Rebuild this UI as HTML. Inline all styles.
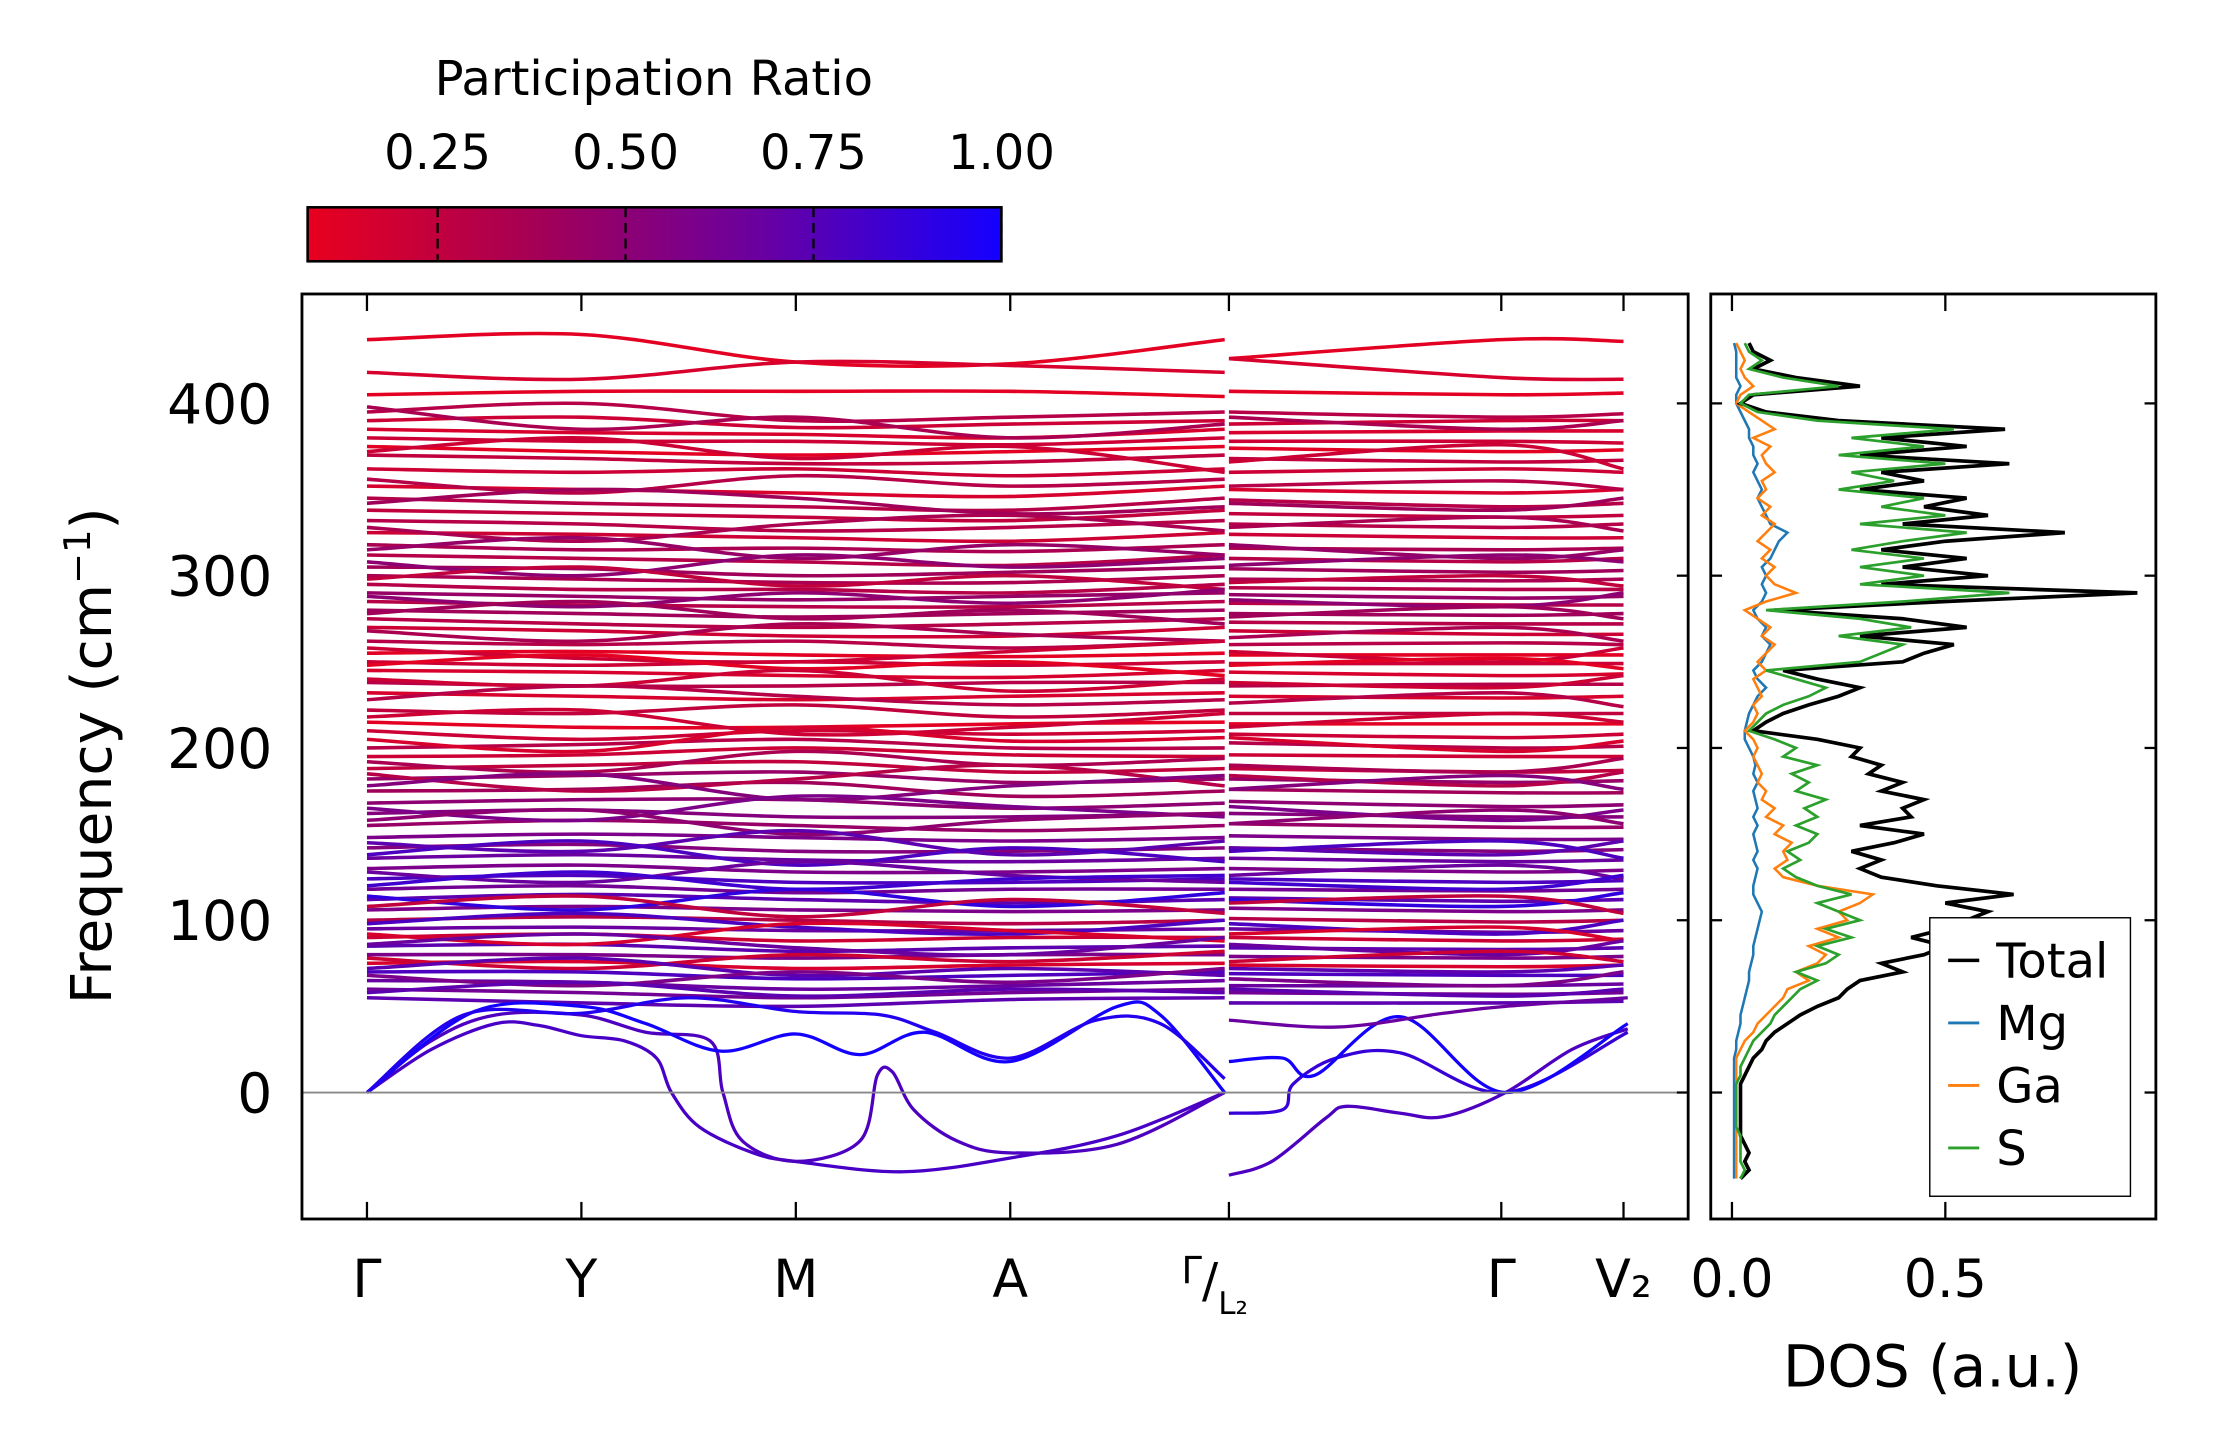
<!DOCTYPE html>
<html><head><meta charset="utf-8"><style>
html,body{margin:0;padding:0;background:#fff}
svg{display:block}
text{font-family:"DejaVu Sans","Liberation Sans",sans-serif;fill:#000}
</style></head><body>
<svg id="fig" width="2222" height="1455" viewBox="-0.7 1.1 1572.5 1024" preserveAspectRatio="none" xmlns="http://www.w3.org/2000/svg">
<defs>
<linearGradient id="cbg" x1="0" x2="1" y1="0" y2="0">
<stop offset="0" stop-color="#e8001e"/><stop offset="0.35" stop-color="#a0005a"/><stop offset="0.65" stop-color="#6a00a0"/><stop offset="1" stop-color="#1400ff"/>
</linearGradient>
<clipPath id="mainclip"><rect x="213" y="208" width="981" height="651"/></clipPath>
<clipPath id="dosclip"><rect x="1210" y="208" width="315" height="651"/></clipPath>
</defs>
<g>
<text x="462" y="68" font-size="34" text-anchor="middle">Participation Ratio</text>
<rect x="217" y="147" width="491" height="38" fill="url(#cbg)" stroke="#000" stroke-width="1.8"/>
<g id="cbticks"></g>
</g>
<g id="main">
<g id="bands" clip-path="url(#mainclip)"></g>
<line x1="213" y1="770" x2="1194" y2="770" stroke="#888" stroke-width="1.3"/>
<rect x="213" y="208" width="981" height="651" fill="none" stroke="#000" stroke-width="2"/>
<g id="mainaxes"></g>
<text transform="translate(78,533) rotate(-90)" font-size="40" text-anchor="middle">Frequency (cm<tspan dy="-15" font-size="26">−1</tspan><tspan dy="15">)</tspan></text>
</g>
<g id="dos">
<g id="doslines" clip-path="url(#dosclip)"></g>
<rect x="1210" y="208" width="315" height="651" fill="none" stroke="#000" stroke-width="2"/>
<g id="dosaxes"></g>
<text x="1367" y="977" font-size="41" text-anchor="middle">DOS (a.u.)</text>
<g>
<rect x="1365" y="647" width="142" height="196" fill="#fff" stroke="#000" stroke-width="1"/>
<line x1="1378" y1="677" x2="1400" y2="677" stroke="#000" stroke-width="2.5"/><text x="1412" y="689" font-size="34">Total</text>
<line x1="1378" y1="721" x2="1400" y2="721" stroke="#1f77b4" stroke-width="2"/><text x="1412" y="733" font-size="34">Mg</text>
<line x1="1378" y1="765" x2="1400" y2="765" stroke="#ff7f0e" stroke-width="2"/><text x="1412" y="777" font-size="34">Ga</text>
<line x1="1378" y1="809" x2="1400" y2="809" stroke="#2ca02c" stroke-width="2"/><text x="1412" y="821" font-size="34">S</text>
</g>
</g>
</svg>
<script>
// ---- data ----
const kLabels = ["Γ","Y","M","A","Γ/L2","Γ","V2"];
const kPos = [0,1,2,3,4,5.29,5.86];
const yTicks = [0,100,200,300,400];
const cbTicks = [0.25,0.5,0.75,1.0];
const dosTicks = [0.0,0.5];
// optical bands: [Γ, Y, M, A, Γ | L2, Γ, V2]
const bandVals = [
[437,440,424,423,437,426,437,436],[418,414,424,422,418,426,415,414],[405,407,407,407,404,407,405,406],
[395,400,390,392,395,395,392,394],[390,392,386,388,390,388,390,390],[385,383,382,380,385,383,384,384],
[380,378,378,376,380,378,378,377],[375,372,370,372,375,374,372,373],[370,368,365,366,370,368,366,367],
[362,360,362,358,362,360,362,360],[352,350,348,346,352,350,348,350],[345,342,340,338,345,344,340,342],
[338,336,334,332,338,336,334,335],[332,330,326,328,332,330,328,330],[325,324,322,320,325,324,322,322],
[318,315,316,314,318,316,315,316],[312,310,308,306,312,310,308,310],[305,304,300,302,305,304,302,303],
[300,298,296,296,300,298,297,298],[295,292,292,290,295,293,292,292],[290,288,286,288,290,289,287,288],
[285,283,282,282,285,284,283,283],[280,278,276,278,280,278,277,278],[275,272,270,272,275,273,272,272],
[270,268,265,265,270,268,266,266],[262,260,262,258,262,260,261,260],[255,256,254,253,255,254,254,254],
[250,248,250,248,250,249,249,249],[245,244,242,241,245,244,242,243],[238,236,236,238,238,236,237,237],
[232,230,228,230,232,230,229,230],[222,220,225,218,222,220,220,220],[215,212,212,214,215,214,214,214],
[210,205,210,208,210,208,206,208],[200,202,205,200,200,203,200,201],[195,196,200,196,195,196,195,195],
[188,190,192,186,188,188,186,187],[182,184,186,180,182,182,180,181],[175,176,180,172,175,176,174,174],
[168,170,170,165,168,169,166,167],[162,164,160,160,162,162,160,160],[155,158,155,152,155,156,154,154],
[148,150,148,146,148,149,147,147],[142,144,140,140,142,142,140,141],[136,138,135,134,136,136,134,135],
[130,132,128,128,130,130,128,129],[124,126,122,122,124,124,122,123],[118,120,116,118,118,118,117,118],
[112,115,112,110,112,113,111,112],[106,108,106,105,106,107,105,106],[100,102,100,98,100,101,99,100],
[95,96,94,94,95,95,93,94],[90,92,88,90,90,90,88,89],[85,86,82,84,85,84,83,84],
[80,80,78,80,80,79,78,79],[75,76,72,74,75,74,73,74],[70,70,66,68,70,69,68,68],
[65,64,60,62,65,62,62,63],[60,58,55,58,60,58,57,58],[55,52,50,54,55,52,52,53],
[398,385,392,380,388,392,385,390],[372,380,368,375,360,366,376,362],[356,348,358,352,356,352,355,350],
[342,350,345,336,340,342,338,345],[328,320,330,335,326,328,334,326],[315,322,310,318,312,318,310,315],
[308,300,312,305,310,306,312,308],[298,305,294,300,292,296,300,294],[288,282,290,284,292,286,282,290],
[278,285,275,280,272,276,282,275],[268,262,272,266,262,264,270,262],[258,252,250,256,262,256,250,258],
[248,254,246,250,242,248,252,246],[240,236,245,233,240,238,235,242],[228,236,230,225,228,226,232,224],
[218,222,208,212,220,212,220,215],[205,198,212,204,206,206,198,204],[192,186,198,190,194,190,186,194],
[185,175,182,190,178,184,178,186],[178,185,170,178,184,176,184,176],[165,158,172,166,160,166,158,164],
[158,164,150,158,162,156,164,156],[145,140,152,138,146,142,138,146],[138,146,132,142,134,140,146,136],
[128,122,134,126,122,126,132,124],[120,128,118,124,126,122,118,126],[114,106,118,108,116,112,108,116],
[108,114,102,112,104,110,114,104],[98,104,96,92,100,98,92,100],[92,86,98,94,88,92,96,88],
[86,92,84,80,90,86,80,88],[78,72,80,76,82,76,82,76],[72,78,68,72,68,72,70,74],
[68,62,70,64,72,66,62,70],[58,64,56,60,58,60,56,60]
];
const bandPR = [0.1,0.15,0.1,0.3,0.2,0.15,0.2,0.1,0.25,0.2,0.15,0.3,0.25,0.3,0.2,0.35,0.3,0.4,0.35,0.3,0.45,0.3,0.4,0.3,0.2,0.3,0.1,0.2,0.15,0.3,0.15,0.25,0.1,0.2,0.3,0.2,0.25,0.45,0.4,0.5,0.55,0.45,0.6,0.55,0.7,0.6,0.8,0.65,0.75,0.6,0.3,0.7,0.2,0.75,0.6,0.15,0.8,0.7,0.65,0.75,
0.35,0.2,0.3,0.4,0.35,0.45,0.5,0.25,0.5,0.4,0.35,0.2,0.1,0.2,0.3,0.2,0.15,0.35,0.3,0.55,0.6,0.5,0.75,0.8,0.7,0.85,0.9,0.25,0.8,0.15,0.7,0.2,0.75,0.6,0.75];
// acoustic / soft bands: [k, freq] points
const lowBands = [
[[0,0],[0.3,25],[0.6,40],[0.8,39],[1,33],[1.2,30],[1.35,20],[1.42,0],[1.55,-20],[1.8,-35],[2,-40],[2.5,-46],[3,-38],[3.5,-25],[4,0]],
[[0,0],[0.3,30],[0.6,45],[1,45],[1.3,35],[1.6,30],[1.66,0],[1.75,-28],[2,-40],[2.3,-28],[2.38,10],[2.45,12],[2.55,-10],[2.75,-28],[3,-35],[3.5,-30],[4,0]],
[[0,0],[0.5,47],[1,50],[1.3,40],[1.65,24],[2,34],[2.3,22],[2.6,35],[3,18],[3.5,50],[3.7,45],[4,0]],
[[0,0],[0.45,45],[1,46],[1.5,55],[2,47],[2.4,45],[2.65,35],[3,20],[3.4,42],[3.7,40],[4,8]],
[[4,-48],[4.2,-40],[4.45,-15],[4.55,-8],[4.8,-12],[5.0,-14],[5.29,0],[5.6,25],[5.86,37]],
[[4,-12],[4.25,-10],[4.3,5],[4.5,20],[4.8,23],[5.29,0],[5.86,35]],
[[4,18],[4.25,20],[4.4,10],[4.8,44],[5.29,0],[5.86,40]],
[[4,42],[4.5,38],[5.0,46],[5.29,50],[5.86,55]]
];
const lowPR = [0.82,0.8,1.0,0.95,0.8,0.88,1.0,0.7];
// DOS (step 5 cm-1 starting at -50)
const dosStart = -50, dosStep = 5;
const dosTotal = [0.02,0.04,0.03,0.04,0.03,0.02,0.02,0.02,0.02,0.02,0.02,0.02,0.03,0.04,0.05,0.07,0.08,0.1,0.13,0.16,0.2,0.25,0.27,0.3,0.4,0.35,0.45,0.5,0.42,0.5,0.55,0.6,0.5,0.66,0.48,0.35,0.3,0.35,0.28,0.38,0.45,0.3,0.42,0.4,0.45,0.35,0.4,0.32,0.35,0.28,0.3,0.2,0.05,0.08,0.12,0.18,0.25,0.3,0.2,0.12,0.4,0.45,0.52,0.3,0.55,0.4,0.1,0.5,0.95,0.35,0.6,0.4,0.55,0.35,0.5,0.78,0.4,0.6,0.45,0.55,0.3,0.45,0.35,0.65,0.3,0.55,0.35,0.64,0.25,0.08,0.02,0.05,0.3,0.15,0.05,0.09,0.05,0.04];
const dosS = [0.02,0.03,0.02,0.02,0.02,0.02,0.01,0.01,0.01,0.01,0.01,0.01,0.02,0.02,0.03,0.04,0.05,0.07,0.09,0.1,0.12,0.14,0.16,0.2,0.15,0.22,0.25,0.2,0.28,0.22,0.3,0.25,0.2,0.28,0.2,0.15,0.12,0.16,0.13,0.18,0.2,0.15,0.2,0.17,0.22,0.15,0.18,0.14,0.2,0.12,0.15,0.1,0.04,0.06,0.08,0.12,0.18,0.22,0.15,0.08,0.3,0.35,0.4,0.25,0.42,0.3,0.08,0.4,0.65,0.3,0.45,0.3,0.45,0.28,0.4,0.55,0.3,0.5,0.35,0.45,0.25,0.38,0.28,0.5,0.25,0.45,0.28,0.52,0.2,0.06,0.02,0.04,0.25,0.12,0.04,0.07,0.04,0.03];
const dosGa = [0.01,0.01,0.01,0.01,0.01,0.01,0.01,0.01,0.01,0.01,0.01,0.01,0.01,0.01,0.01,0.02,0.03,0.05,0.06,0.08,0.1,0.12,0.13,0.18,0.15,0.2,0.22,0.18,0.25,0.2,0.27,0.25,0.3,0.33,0.2,0.12,0.1,0.13,0.12,0.14,0.1,0.12,0.08,0.1,0.07,0.08,0.06,0.07,0.06,0.05,0.06,0.05,0.03,0.05,0.06,0.05,0.07,0.06,0.05,0.08,0.06,0.08,0.1,0.07,0.09,0.06,0.03,0.08,0.15,0.1,0.08,0.1,0.07,0.09,0.06,0.08,0.1,0.07,0.09,0.06,0.08,0.07,0.1,0.08,0.07,0.09,0.05,0.1,0.07,0.04,0.01,0.02,0.05,0.03,0.02,0.03,0.02,0.01];
const dosMg = [0.005,0.005,0.005,0.005,0.005,0.005,0.005,0.005,0.005,0.005,0.005,0.005,0.005,0.005,0.005,0.01,0.01,0.015,0.02,0.02,0.025,0.03,0.035,0.04,0.04,0.045,0.05,0.05,0.055,0.06,0.065,0.07,0.06,0.05,0.05,0.055,0.06,0.05,0.06,0.055,0.05,0.06,0.05,0.06,0.055,0.05,0.06,0.05,0.055,0.05,0.04,0.03,0.03,0.035,0.04,0.05,0.06,0.08,0.06,0.05,0.07,0.08,0.09,0.07,0.08,0.06,0.05,0.07,0.08,0.07,0.08,0.07,0.09,0.1,0.11,0.13,0.09,0.08,0.07,0.06,0.07,0.06,0.05,0.06,0.05,0.05,0.04,0.04,0.03,0.02,0.01,0.01,0.02,0.01,0.01,0.01,0.01,0.005];

// ---- scales ----
const NS="http://www.w3.org/2000/svg";
const xK = k => 259 + k*151.75;
const yF = f => 770 - f*1.2125;
const xD = d => 1225 + d*302;
const xCB = v => 309 + (v-0.25)*532;
function prColor(p){
  const stops=[[0.077,[232,0,30]],[0.4,[160,0,90]],[0.7,[106,0,160]],[1,[20,0,255]]];
  p=Math.max(0.077,Math.min(1,p));
  for(let i=0;i<stops.length-1;i++){const[a,ca]=stops[i],[b,cb]=stops[i+1];
    if(p<=b){const t=(p-a)/(b-a);return `rgb(${ca.map((c,j)=>Math.round(c+(cb[j]-c)*t)).join(',')})`;}}
  return 'rgb(20,0,255)';
}
function smooth(pts){
  let d=`M${pts[0][0]},${pts[0][1]}`;
  for(let i=0;i<pts.length-1;i++){
    const p0=pts[i-1]||pts[i],p1=pts[i],p2=pts[i+1],p3=pts[i+2]||p2;
    const c1=[p1[0]+(p2[0]-p0[0])/6,p1[1]+(p2[1]-p0[1])/6];
    const c2=[p2[0]-(p3[0]-p1[0])/6,p2[1]-(p3[1]-p1[1])/6];
    d+=` C${c1[0]},${c1[1]} ${c2[0]},${c2[1]} ${p2[0]},${p2[1]}`;
  }
  return d;
}
function mk(tag,attrs,parent){const e=document.createElementNS(NS,tag);for(const k in attrs)e.setAttribute(k,attrs[k]);parent.appendChild(e);return e;}

const gB=document.getElementById('bands');
bandVals.forEach((b,i)=>{
  const col=prColor(bandPR[i]);
  const s1=[0,1,2,3,4].map(j=>[xK(kPos[j]),yF(b[j])]);
  const s2=[[xK(4)+3,yF(b[5])],[xK(kPos[5]),yF(b[6])],[xK(kPos[6]),yF(b[7])]];
  [s1,s2].forEach((s,si)=>{
    const p=mk('path',{d:smooth(s),fill:'none',stroke:col,'stroke-width':2.5},gB);
    
    
  });
});
lowBands.forEach((b,i)=>{
  const pts=b.map(([k,f])=>[xK(k)+(k>=4&&b[0][0]>=4?3:0),yF(f)]);
  const p=mk('path',{d:smooth(pts),fill:'none',stroke:prColor(lowPR[i]),'stroke-width':2.3},gB);
  
  
});
const gA=document.getElementById('mainaxes');
yTicks.forEach(v=>{
  const y=yF(v);
  mk('line',{x1:1194,y1:y,x2:1186,y2:y,stroke:'#000','stroke-width':1.6},gA);
  const t=mk('text',{x:192,y:y+14,'font-size':39,'text-anchor':'end'},gA);t.textContent=v;
  
  
});
kPos.forEach((k,i)=>{
  const x=xK(k)+(i===4?3:0);
  mk('line',{x1:x,y1:859,x2:x,y2:847,stroke:'#000','stroke-width':1.6},gA);
  mk('line',{x1:x,y1:208,x2:x,y2:220,stroke:'#000','stroke-width':1.6},gA);
  let t;
  if(i===4){
    t=mk('text',{x:x,y:914,'font-size':26,'text-anchor':'middle'},gA);
    t.innerHTML='<tspan dx="-10" dy="-10">Γ</tspan><tspan dy="10" font-size="34">/</tspan><tspan dy="12" font-size="22">L₂</tspan>';
  } else if(i===6){
    t=mk('text',{x:x,y:914,'font-size':37,'text-anchor':'middle'},gA);t.textContent='V₂';
  } else {
    t=mk('text',{x:x,y:914,'font-size':37,'text-anchor':'middle'},gA);t.textContent=kLabels[i];
  }
  
  
});
const gC=document.getElementById('cbticks');
cbTicks.forEach(v=>{
  const x=xCB(v);
  mk('line',{x1:x,y1:147,x2:x,y2:185,stroke:'#000','stroke-width':1.6,'stroke-dasharray':'7,4'},gC);
  const t=mk('text',{x:x,y:120,'font-size':34,'text-anchor':'middle'},gC);t.textContent=v.toFixed(2);
  
  
});
const gD=document.getElementById('doslines');
[[dosMg,'#1f77b4',1.8,'dos-mg'],[dosGa,'#ff7f0e',1.8,'dos-ga'],[dosTotal,'#000',2.6,'dos-total'],[dosS,'#2ca02c',1.9,'dos-s']].forEach(([arr,c,w,n])=>{
  const pts=arr.map((v,i)=>`${xD(v)},${yF(dosStart+i*dosStep)}`).join(' ');
  const p=mk('polyline',{points:pts,fill:'none',stroke:c,'stroke-width':w},gD);
  
  
});
const gDA=document.getElementById('dosaxes');
dosTicks.forEach(v=>{
  const x=xD(v);
  mk('line',{x1:x,y1:859,x2:x,y2:847,stroke:'#000','stroke-width':1.6},gDA);
  mk('line',{x1:x,y1:208,x2:x,y2:220,stroke:'#000','stroke-width':1.6},gDA);
  const t=mk('text',{x:x,y:914,'font-size':37,'text-anchor':'middle'},gDA);t.textContent=v.toFixed(1);
  
  
});
yTicks.forEach(v=>{
  const y=yF(v);
  mk('line',{x1:1210,y1:y,x2:1218,y2:y,stroke:'#000','stroke-width':1.6},gDA);
  mk('line',{x1:1525,y1:y,x2:1517,y2:y,stroke:'#000','stroke-width':1.6},gDA);
});
</script>
</body></html>
